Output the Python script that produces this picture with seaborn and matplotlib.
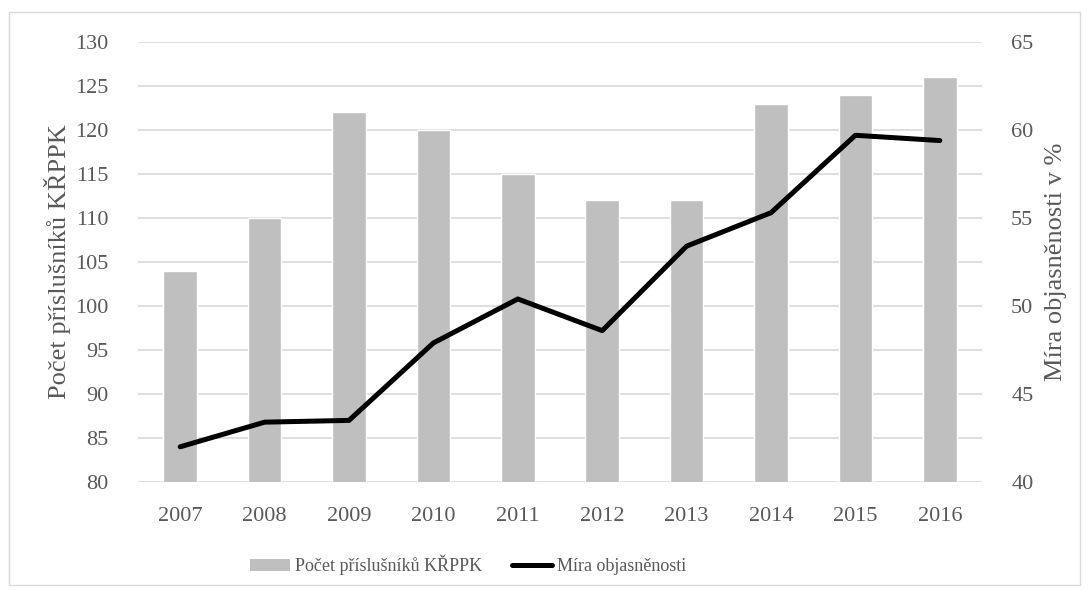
import pandas as pd
import matplotlib
matplotlib.use('Agg')
import matplotlib.pyplot as plt
import seaborn as sns
from matplotlib.patches import Rectangle
from matplotlib.lines import Line2D
from matplotlib.patches import Patch

# data
years = ['2007', '2008', '2009', '2010', '2011', '2012', '2013', '2014', '2015', '2016']
officers = [104, 110, 122, 120, 115, 112, 112, 123, 124, 126]
clearance = [42.0, 43.4, 43.5, 47.9, 50.4, 48.6, 53.4, 55.3, 59.7, 59.4]

df = pd.DataFrame({'rok': years, 'pocet': officers, 'mira': clearance})

sns.set_style('white')
plt.rcParams['font.family'] = ['Liberation Serif', 'DejaVu Serif']
TXT = '#595959'
GRID = '#d9d9d9'

fig = plt.figure(figsize=(10.9, 5.91), dpi=100)
ax = fig.add_axes([138 / 1090, 1 - 482 / 591, 844 / 1090, 440 / 591])
ax2 = ax.twinx()

# --- bars (left axis) ---
sns.barplot(data=df, x='rok', y='pocet', color='#bfbfbf', width=0.4,
            saturation=1, ax=ax, zorder=2)
ax.set_ylim(80, 130)
ax.set_yticks(range(80, 131, 5))
ax.set_xlim(-0.5, 9.5)
ax.yaxis.grid(True, color=GRID, linewidth=1.2, zorder=0)
ax.set_axisbelow(True)

# --- line (right axis) ---
sns.pointplot(data=df, x='rok', y='mira', color='black', markers='',
              linewidth=3.6, ax=ax2)
for ln in ax2.lines:
    ln.set_solid_capstyle('round')
    ln.set_solid_joinstyle('round')
ax2.set_ylim(40, 65)
ax2.set_yticks(range(40, 66, 5))
ax2.set_xlim(-0.5, 9.5)

for a in (ax, ax2):
    for s in a.spines.values():
        s.set_visible(False)
    a.tick_params(length=0, labelsize=16, labelcolor=TXT)
ax.tick_params(axis='x', pad=18)
ax.tick_params(axis='y', pad=21)
ax2.tick_params(axis='y', pad=21)

ax.set_xlabel('')
ax.set_ylabel('Počet příslušníků KŘPPK', fontsize=19, color=TXT, labelpad=3)
ax2.set_ylabel('Míra objasněnosti v %', fontsize=19, color=TXT, labelpad=8)

# legend below the plot
handles = [Patch(facecolor='#bfbfbf', edgecolor='none'),
           Line2D([0], [0], color='black', linewidth=3.6, solid_capstyle='round')]
labels = ['Počet příslušníků KŘPPK', 'Míra objasněnosti']
fig.legend(handles, labels, loc='center', bbox_to_anchor=(468 / 1090, 1 - 565 / 591),
           ncol=2, frameon=False, fontsize=13, labelcolor=TXT,
           handlelength=2.2, handletextpad=0.25, columnspacing=1.7)

# chart border
fig.patches.append(Rectangle((9 / 1090, 1 - 585 / 591), 1071 / 1090, 573 / 591,
                             transform=fig.transFigure, fill=False,
                             edgecolor=GRID, linewidth=1))

plt.savefig('out.png', dpi=100)
